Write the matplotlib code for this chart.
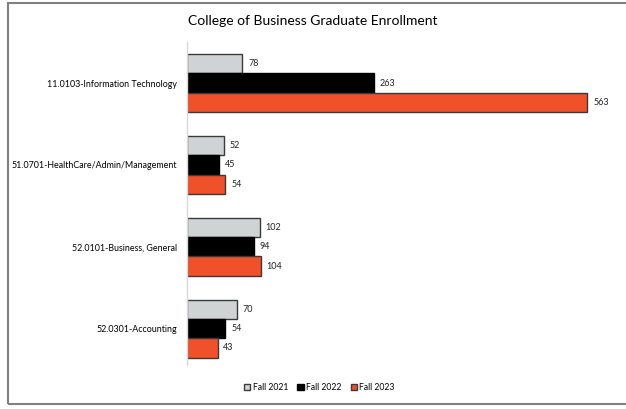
import matplotlib.pyplot as plt
from matplotlib.patches import Rectangle

plt.rcParams['font.family'] = ['Lato', 'DejaVu Sans']

programs = ['11.0103-Information Technology', '51.0701-HealthCare/Admin/Management',
            '52.0101-Business, General', '52.0301-Accounting']
fall_2021 = [78, 52, 102, 70]
fall_2022 = [263, 45, 94, 54]
fall_2023 = [563, 54, 104, 43]

series = [('Fall 2021', fall_2021, '#D0D3D4', '#3a3a3a'),
          ('Fall 2022', fall_2022, '#000000', '#000000'),
          ('Fall 2023', fall_2023, '#F0502A', '#3a3a3a')]

fig = plt.figure(figsize=(6.26, 4.09), dpi=100)
ax = fig.add_axes([0.2987, 0.107, 0.676, 0.79])

h = 0.235
for i, (name, vals, col, ec) in enumerate(series):
    ys = [k + (i - 1) * h for k in range(len(programs))]
    ax.barh(ys, vals, height=h, color=col, edgecolor=ec, linewidth=1.0, label=name)
    for y, v in zip(ys, vals):
        ax.text(v + 8, y, str(v), va='center', ha='left', fontsize=6.5, color='#222222')

ax.set_ylim(3.446, -0.5)
ax.set_xlim(0, 595)
ax.set_yticks(range(len(programs)))
ax.set_yticklabels(programs, fontsize=6.4)
ax.tick_params(axis='y', length=0, pad=7)
ax.set_xticks([])
for s in ['top', 'right', 'bottom']:
    ax.spines[s].set_visible(False)
ax.spines['left'].set_color('#d9d9d9')
ax.spines['left'].set_linewidth(1.0)

fig.text(0.5, 0.948, 'College of Business Graduate Enrollment', ha='center', va='center', fontsize=10)

fig.legend(loc='center', bbox_to_anchor=(0.51, 0.052), ncol=3, frameon=False, fontsize=6.2,
           handlelength=0.7, handleheight=0.7, handletextpad=0.25, columnspacing=1.1)

# chart border
fig.patches.append(Rectangle((8 / 626, 5 / 409), 1.2, 401 / 409, transform=fig.transFigure,
                             fill=False, edgecolor='#808080', linewidth=1.5))

fig.savefig('out.png', dpi=100)
